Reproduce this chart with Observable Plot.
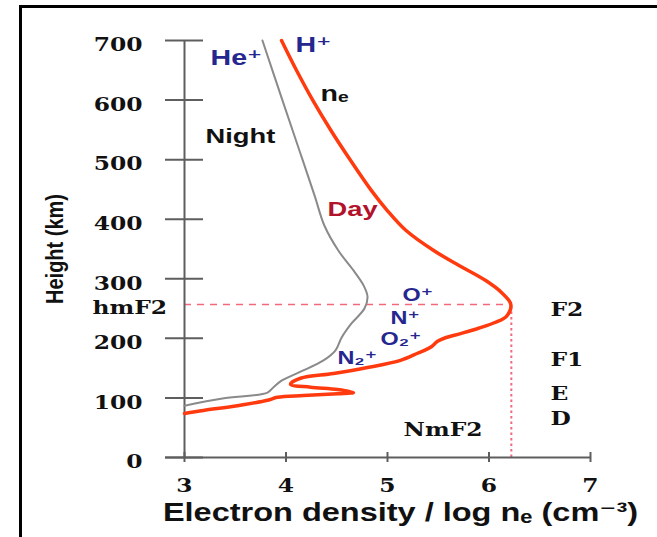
<!DOCTYPE html>
<html><head><meta charset="utf-8">
<script src="https://cdn.jsdelivr.net/npm/d3@7"></script>
<script src="https://cdn.jsdelivr.net/npm/@observablehq/plot@0.6"></script>
<style>
html,body{margin:0;padding:0;background:#fff;}
#wrap{position:relative;width:657px;height:537px;overflow:hidden;}
#frame{position:absolute;left:19px;top:5px;right:-10px;bottom:-10px;border-left:3px solid #000;border-top:3px solid #000;pointer-events:none;z-index:2;}
</style></head><body>
<div id="wrap"><div id="frame"></div></div>
<script>
// Day profile: log electron density (cm^-3) vs height (km), traced top to bottom
const dayDensity = [3.956,4.103,4.266,4.443,4.635,4.842,4.996,5.183,5.459,5.709,5.968,6.123,6.215,6.172,6.064,5.897,5.719,5.571,5.493,5.424,5.296,5.128,4.803,4.468,4.143,4.044,4.241,4.507,4.665,4.507,4.172,3.916,3.818,3.522,3.187,3.0];
const dayHeight  = [700,650,599,549,499,448,415,381,347,322,297,277,257,237,227,217,208,201,195,185,175,163,151,141,133,123,118,114,109,107,104,101,96,87,79,74];
// Night profile
const nightDensity = [3.768,3.966,4.133,4.281,4.379,4.517,4.665,4.764,4.803,4.773,4.645,4.547,4.488,4.369,4.143,3.956,3.877,3.818,3.374,3.0];
const nightHeight  = [700,599,515,440,389,347,314,289,270,250,225,201,180,163,144,129,118,109,99,87];

const hmF2 = 257;      // km
const NmF2 = 6.22;     // log ne

const xTicks = [3,4,5,6,7];
const yTicks = [0,100,200,300,400,500,600,700];

// Annotation labels (data coordinates of their left edge)
const ionLabels = ["He⁺","H⁺"];
const ionX = [3.256,4.094];
const ionY = [670,693];
const minorIonLabels = ["O⁺","N⁺","O₂⁺","N₂⁺"];
const minorIonX = [5.148,5.030,4.931,4.507];
const minorIonY = [272,233,198,166];
const layerLabels = ["F2","F1","E","D"];
const layerX = 6.606;
const layerY = [247,163,107,65];

const day = dayDensity.map((v,i)=>({v, h: dayHeight[i]}));
const night = nightDensity.map((v,i)=>({v, h: nightHeight[i]}));

const axisColor = "#5e5e5e";
const serif = "DejaVu Serif, Liberation Serif, serif";
const sans = "Liberation Sans, Arial, DejaVu Sans, sans-serif";
const blue = "#26268f";

const chart = Plot.plot({
  width: 657, height: 537,
  marginLeft: 184, marginRight: 67, marginTop: 40, marginBottom: 80,
  x: {domain: [3,7], axis: null},
  y: {domain: [0,700], axis: null},
  style: {background: "transparent", overflow: "visible"},
  marks: [
    // reference lines for NmF2 / hmF2
    Plot.ruleY([hmF2], {x1: 3, x2: NmF2, stroke: "#f4687c", strokeWidth: 1.5, strokeDasharray: "7,6"}),
    Plot.ruleX([NmF2], {y1: 0, y2: hmF2, stroke: "#f4687c", strokeWidth: 2, strokeDasharray: "2.5,3"}),
    // axes
    Plot.ruleX([3], {y1: 0, y2: 700, stroke: axisColor, strokeWidth: 2}),
    Plot.ruleY([0], {x1: 3, x2: 7, insetLeft: -19, stroke: axisColor, strokeWidth: 2}),
    Plot.ruleY(yTicks, {y: d => d, x1: 3, x2: 3, insetLeft: -19, insetRight: -19, stroke: axisColor, strokeWidth: 2}),
    Plot.ruleX(xTicks, {x: d => d, y1: 0, y2: 0, insetTop: -5, insetBottom: -5, stroke: axisColor, strokeWidth: 2}),
    // profiles
    Plot.line(night, {x: "v", y: "h", stroke: "#8a8a8a", strokeWidth: 2, curve: "catmull-rom"}),
    Plot.line(day, {x: "v", y: "h", stroke: "#ff3a0e", strokeWidth: 3.5, curve: "catmull-rom"}),
    // tick labels
    Plot.text(yTicks, {x: 3, y: d => d, text: d => String(d), dx: -42, dy: 5, textAnchor: "end", fontFamily: serif, fontWeight: "bold", fontSize: 18, fill: "#111"}),
    Plot.text(["hmF2"], {x: 3, y: hmF2, dx: -92, dy: 4, textAnchor: "start", fontFamily: serif, fontWeight: "bold", fontSize: 18, fill: "#111"}),
    Plot.text(xTicks, {x: d => d, y: 0, text: d => String(d), dy: 29, textAnchor: "middle", fontFamily: serif, fontWeight: "bold", fontSize: 18, fill: "#111"}),
    // axis titles
    Plot.text(["Electron density / log nₑ (cm⁻³)"], {frameAnchor: "bottom", dx: 13, dy: 63, textAnchor: "middle", fontFamily: sans, fontWeight: "bold", fontSize: 25, fill: "#111"}),
    Plot.text(["Height (km)"], {frameAnchor: "left", dx: -129, rotate: -90, textAnchor: "middle", fontFamily: sans, fontWeight: "bold", fontSize: 20, fill: "#111"}),
    // annotations
    Plot.text(ionLabels, {x: (d,i) => ionX[i], y: (d,i) => ionY[i], text: d => d, textAnchor: "start", fontFamily: sans, fontWeight: "bold", fontSize: 22, fill: blue}),
    Plot.text(minorIonLabels, {x: (d,i) => minorIonX[i], y: (d,i) => minorIonY[i], text: d => d, textAnchor: "start", fontFamily: sans, fontWeight: "bold", fontSize: 18, fill: blue}),
    Plot.text(["nₑ"], {x: 4.34, y: 611, textAnchor: "start", fontFamily: sans, fontWeight: "bold", fontSize: 22, fill: "#111"}),
    Plot.text(["Night"], {x: 3.207, y: 539, textAnchor: "start", fontFamily: sans, fontWeight: "bold", fontSize: 21, fill: "#111"}),
    Plot.text(["Day"], {x: 4.409, y: 416, textAnchor: "start", fontFamily: sans, fontWeight: "bold", fontSize: 21, fill: "#b3122b"}),
    Plot.text(layerLabels, {x: layerX, y: (d,i) => layerY[i], text: d => d, textAnchor: "start", fontFamily: serif, fontWeight: "bold", fontSize: 18, fill: "#111"}),
    Plot.text(["NmF2"], {x: 5.158, y: 45, textAnchor: "start", fontFamily: serif, fontWeight: "bold", fontSize: 18, fill: "#111"})
  ]
});

// the reference image is horizontally stretched: widen glyphs to match
chart.querySelectorAll("text").forEach(t => {
  const tr = t.getAttribute("transform") || "";
  if (tr.includes("rotate")) {
    t.setAttribute("transform", tr.replace(/rotate/, "scale(1.15,1) rotate"));
  } else {
    t.setAttribute("transform", tr + " scale(1.3,1)");
  }
});

document.getElementById("wrap").appendChild(chart);
</script>
</body></html>
